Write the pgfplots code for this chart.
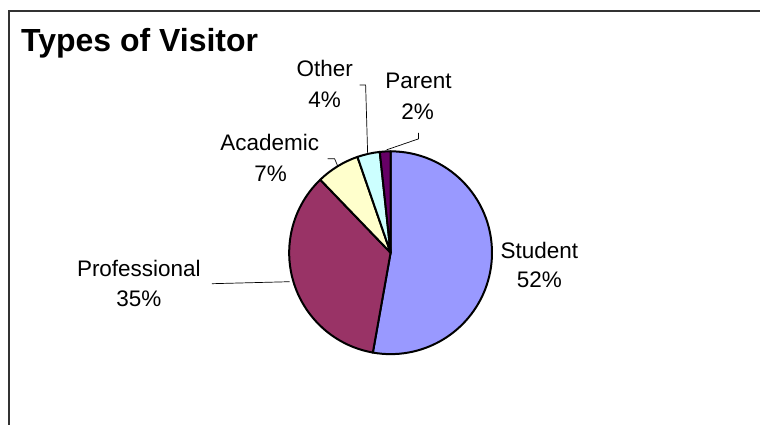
\documentclass[border=0pt]{standalone}
\usepackage{pgfplots}
\usepackage{pgfplotstable}
\pgfplotsset{compat=1.18}
\usepackage{fontspec}
\setmainfont{Liberation Sans}

\definecolor{cStudent}{HTML}{9999FF}
\definecolor{cProf}{HTML}{993366}
\definecolor{cAcad}{HTML}{FFFFCC}
\definecolor{cOther}{HTML}{CCFFFF}
\definecolor{cParent}{HTML}{660066}

% share of visitors, clockwise from 12 o'clock
\pgfplotstableread{
label pct col
Student 52.8 cStudent
Professional 35.0 cProf
Academic 6.9 cAcad
Other 3.6 cOther
Parent 1.7 cParent
}\visitors

\begin{document}
\begin{tikzpicture}
\begin{axis}[
    x=1pt, y=1pt,
    xmin=0, xmax=761, ymin=0, ymax=425,
    hide axis, clip=false,
]
\path (axis cs:0,0) rectangle (axis cs:761,425);
% frame (cut at right and bottom)
\addplot[draw=black!80, line width=1.6pt, no marks] coordinates {(9,0) (9,414) (761,414)};

% pie wedges
\pgfplotstablegetrowsof{\visitors}
\pgfmathtruncatemacro\nrows{\pgfplotsretval-1}
\def\cum{90}
\pgfplotsforeachungrouped \i in {0,...,\nrows}{
  \pgfplotstablegetelem{\i}{pct}\of\visitors \let\p\pgfplotsretval
  \pgfplotstablegetelem{\i}{col}\of\visitors \let\c\pgfplotsretval
  \pgfmathsetmacro\endang{\cum-3.6*\p}
  \edef\temp{\noexpand\filldraw[fill=\c, draw=black, line width=2pt, line join=round]
    (axis cs:391,172) -- ++(\cum:101.5pt) arc[start angle=\cum, end angle=\endang, radius=101.5pt] -- cycle;}
  \temp
  \global\let\cum\endang
}

% leader lines
\addplot[black, line width=0.7pt, no marks] coordinates {(212,141) (290,143)};
\addplot[black, line width=0.7pt, no marks] coordinates {(328,266) (335,266) (338,259)};
\addplot[black, line width=0.7pt, no marks] coordinates {(360,340) (366,340) (368,272)};
\addplot[black, line width=0.7pt, no marks] coordinates {(419,292) (419,286) (387,275)};

% title and labels
\node[anchor=base west, font=\fontsize{32}{38}\selectfont\bfseries, inner sep=0pt] at (axis cs:21,373) {Types of Visitor};
\tikzset{lab/.style={anchor=base, inner sep=0pt, font=\fontsize{22.5}{27}\selectfont}}
\node[lab] at (axis cs:540,166) {Student};
\node[lab] at (axis cs:540,137) {52\%};
\node[lab] at (axis cs:139,148) {Professional};
\node[lab] at (axis cs:139,118) {35\%};
\node[lab] at (axis cs:270,274) {Academic};
\node[lab] at (axis cs:271,243) {7\%};
\node[lab] at (axis cs:325,348) {Other};
\node[lab] at (axis cs:325,317) {4\%};
\node[lab] at (axis cs:419,336) {Parent};
\node[lab] at (axis cs:418,305) {2\%};
\end{axis}
\end{tikzpicture}
\end{document}
